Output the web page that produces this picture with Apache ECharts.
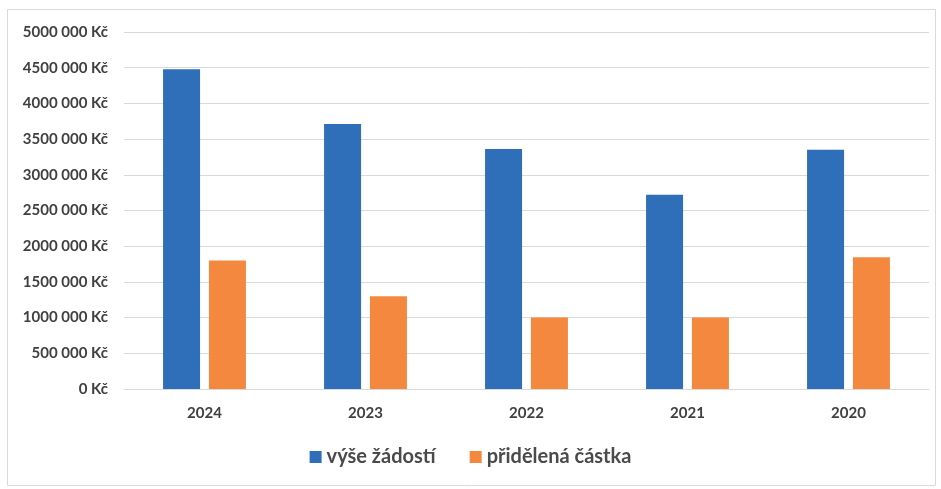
<!DOCTYPE html>
<html lang="cs">
<head>
<meta charset="UTF-8">
<title>grant</title>
<script src="https://cdn.jsdelivr.net/npm/echarts@6/dist/echarts.min.js"></script>
<style>
  html, body { margin: 0; padding: 0; background: #fff; }
  #main { width: 941px; height: 489px; }
</style>
</head>
<body>
<div id="main"></div>
<script>
var years = ['2024', '2023', '2022', '2021', '2020'];
var requested = [4480000, 3710000, 3360000, 2720000, 3350000];
var granted = [1800000, 1300000, 1000000, 1000000, 1845000];

function fmtKc(v) {
    if (v < 1000) return v + ' Kč';
    var rest = String(v % 1000);
    while (rest.length < 3) rest = '0' + rest;
    return Math.floor(v / 1000) + ' ' + rest + ' Kč';
}

var myChart = echarts.init(document.getElementById('main'));
var font = 'Lato, "Open Sans", sans-serif';

myChart.setOption({
    animation: false,
    textStyle: { fontFamily: font },
    graphic: [{
        type: 'rect',
        shape: { x: 7.5, y: 9.5, width: 928, height: 476 },
        style: { fill: 'none', stroke: '#d9d9d9', lineWidth: 1 }
    }],
    grid: { left: 124, right: 12, top: 32, bottom: 100 },
    legend: {
        bottom: 17,
        left: 'center',
        itemWidth: 12,
        itemHeight: 12,
        itemGap: 34,
        icon: 'rect',
        textStyle: { fontFamily: font, fontSize: 20, fontWeight: 'bold', color: '#4a4a4a' },
        data: ['výše žádostí', 'přidělená částka']
    },
    xAxis: {
        type: 'category',
        data: years,
        axisLine: { lineStyle: { color: '#d9d9d9' } },
        axisTick: { show: false },
        axisLabel: { fontFamily: font, fontSize: 15, fontWeight: 'bold', color: '#404040', margin: 17 }
    },
    yAxis: {
        type: 'value',
        min: 0,
        max: 5000000,
        interval: 500000,
        axisLine: { show: false },
        axisTick: { show: false },
        splitLine: { lineStyle: { color: '#d9d9d9', width: 1 } },
        axisLabel: {
            fontFamily: font, fontSize: 15, fontWeight: 'bold', color: '#404040', margin: 16,
            formatter: fmtKc
        }
    },
    series: [
        {
            name: 'výše žádostí',
            type: 'bar',
            data: requested,
            barWidth: 37,
            barGap: '24%',
            itemStyle: { color: '#2F6EB8' }
        },
        {
            name: 'přidělená částka',
            type: 'bar',
            data: granted,
            barWidth: 37,
            itemStyle: { color: '#F5883F' }
        }
    ]
});
</script>
</body>
</html>
